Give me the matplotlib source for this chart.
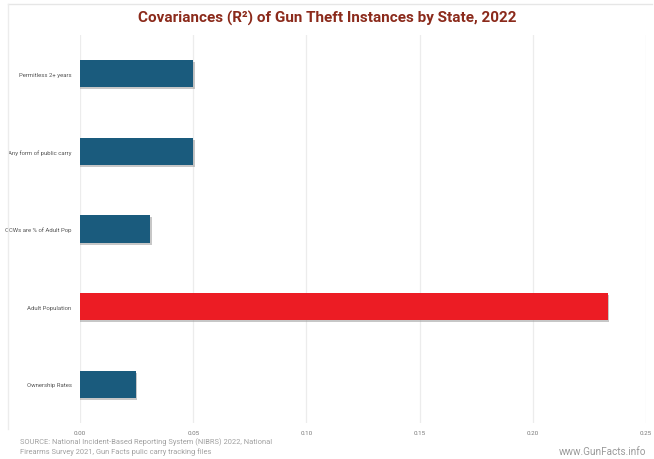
import matplotlib
matplotlib.use("Agg")
import matplotlib.pyplot as plt
from matplotlib.lines import Line2D

categories = ["Ownership Rates", "Adult Population", "CCWs are % of Adult Pop",
              "Any form of public carry", "Permitless 2+ years"]
values = [0.0247, 0.233, 0.031, 0.050, 0.050]
bar_colors = ["#1a5b7d", "#ec1c24", "#1a5b7d", "#1a5b7d", "#1a5b7d"]
xticks = [0.00, 0.05, 0.10, 0.15, 0.20, 0.25]
xtick_labels = ["0.00", "0.05", "0.10", "0.15", "0.20", "0.25"]

W, H = 654, 460
fig = plt.figure(figsize=(W / 100, H / 100), dpi=100)
fig.patch.set_facecolor("white")

ax = fig.add_axes([80 / W, (H - 424) / H, 566 / W, 388 / H])
ax.set_facecolor("white")

ypos = list(range(len(categories)))
# subtle shadow
ax.barh([y - 0.025 for y in ypos], [v + 0.0006 for v in values], height=0.35,
        color="#9a9a9a", alpha=0.55, zorder=2)
ax.barh(ypos, values, height=0.35, color=bar_colors, zorder=3)

ax.set_xlim(0, 0.25)
ax.set_ylim(-0.5, len(categories) - 0.5)
ax.set_xticks(xticks)
ax.set_xticklabels(xtick_labels, fontsize=4.5, color="#777777", family="Roboto")
ax.set_yticks(ypos)
ax.set_yticklabels(categories, fontsize=4.3, color="#555555", family="Roboto")
ax.tick_params(axis="x", length=0, pad=5)
ax.tick_params(axis="y", length=0, pad=6)
ax.grid(axis="x", color="#ececec", linewidth=0.9, zorder=0)
for s in ax.spines.values():
    s.set_visible(False)

fig.text(0.5, (H - 18) / H, "Covariances (R²) of Gun Theft Instances by State, 2022",
         ha="center", va="center", fontsize=11, fontweight="bold",
         color="#8b2a1b", family="Roboto")

fig.text(20 / W, (H - 447) / H,
         "SOURCE: National Incident-Based Reporting System (NIBRS) 2022, National\n"
         "Firearms Survey 2021, Gun Facts pulic carry tracking files",
         ha="left", va="center", fontsize=5.4, color="#a0a0a0", family="Roboto",
         linespacing=1.3)
fig.text(646 / W, (H - 452) / H, "www.GunFacts.info", ha="right", va="center",
         fontsize=7.2, color="#9a9a9a", family="Roboto")

# light frame
fig.add_artist(Line2D([8 / W, 652 / W], [(H - 5) / H, (H - 5) / H],
                      color="#e6e6e6", linewidth=1.0, transform=fig.transFigure))
fig.add_artist(Line2D([8 / W, 8 / W], [(H - 5) / H, (H - 430) / H],
                      color="#ececec", linewidth=1.0, transform=fig.transFigure))

fig.savefig("out.png", dpi=100)
